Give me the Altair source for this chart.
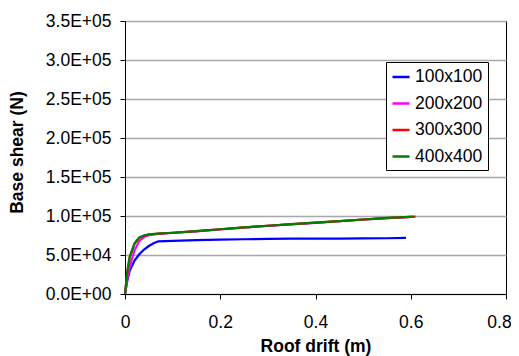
import altair as alt
import pandas as pd

series_names = ["100x100", "200x200", "300x300", "400x400"]
series_colors = ["#0000ff", "#ff00ff", "#ff0000", "#008000"]

drift_100 = [0, 0.005, 0.01, 0.02, 0.03, 0.04, 0.05, 0.06, 0.07, 0.1, 0.15, 0.2, 0.25, 0.3, 0.35, 0.4, 0.45, 0.5, 0.55, 0.59]
shear_100 = [0, 18000, 30000, 43000, 51000, 57000, 61500, 65000, 67500, 68200, 69000, 69600, 70200, 70600, 70900, 71000, 71100, 71200, 71500, 72000]

drift_200 = [0, 0.005, 0.01, 0.02, 0.03, 0.04, 0.05, 0.07, 0.1, 0.15, 0.2, 0.25, 0.3, 0.35, 0.4, 0.45, 0.5, 0.55, 0.6]
shear_200 = [0, 20000, 35000, 56000, 68000, 73000, 75500, 77000, 78200, 80300, 82800, 85200, 87300, 89300, 91300, 93300, 95300, 97200, 98800]

drift_300 = [0, 0.005, 0.01, 0.02, 0.03, 0.04, 0.05, 0.07, 0.1, 0.15, 0.2, 0.25, 0.3, 0.35, 0.4, 0.45, 0.5, 0.55, 0.6, 0.61]
shear_300 = [0, 29000, 47000, 64500, 72000, 74800, 76300, 77400, 78500, 80500, 83000, 85500, 87500, 89500, 91500, 93500, 95500, 97400, 99000, 99300]

drift_400 = [0, 0.005, 0.01, 0.02, 0.03, 0.04, 0.05, 0.07, 0.1, 0.15, 0.2, 0.25, 0.3, 0.35, 0.4, 0.45, 0.5, 0.55, 0.6, 0.605]
shear_400 = [0, 30000, 48000, 65000, 72500, 75000, 76500, 77500, 78500, 80500, 83000, 85500, 87500, 89500, 91500, 93500, 95500, 97500, 99000, 99200]

x_ticks = [0, 0.2, 0.4, 0.6, 0.8]
y_ticks = [0, 50000, 100000, 150000, 200000, 250000, 300000, 350000]

rows = []
for name, xs, ys in zip(series_names,
                        [drift_100, drift_200, drift_300, drift_400],
                        [shear_100, shear_200, shear_300, shear_400]):
    for i, (x, y) in enumerate(zip(xs, ys)):
        rows.append({"series": name, "drift": x, "shear": y, "idx": i})
df = pd.DataFrame(rows)

FONT = "Liberation Sans"
FS = 17.5

y_label_expr = ("datum.value == 0 ? '0.0E+00' : (datum.value < 100000 ? "
                "format(datum.value / 10000, '.1f') + 'E+04' : "
                "format(datum.value / 100000, '.1f') + 'E+05')")

chart = alt.Chart(df).mark_line(strokeWidth=2.2).encode(
    x=alt.X("drift:Q",
            scale=alt.Scale(domain=[0, 0.8], nice=False),
            axis=alt.Axis(values=x_ticks, format=".1~f", title="Roof drift (m)",
                          grid=False, labelPadding=14, tickSize=5, labelFlush=False,
                          labelOffset={"condition": {"test": "datum.value >= 0.79", "value": -7},
                                       "value": 0},
                          titleBaseline="alphabetic", titleY=57)),
    y=alt.Y("shear:Q",
            scale=alt.Scale(domain=[0, 350000], nice=False),
            axis=alt.Axis(values=y_ticks, labelExpr=y_label_expr, title="Base shear (N)",
                          grid=True, titlePadding=19, labelPadding=9, tickSize=5,
                          labelFlush=False, titleY=131)),
    color=alt.Color("series:N",
                    scale=alt.Scale(domain=series_names, range=series_colors),
                    legend=alt.Legend(title=None, orient="none", legendX=261, legendY=41,
                                      symbolType="stroke", symbolSize=289, symbolStrokeWidth=2.5,
                                      labelFontSize=FS, labelFont=FONT, labelColor="black",
                                      labelOffset=4, rowPadding=7.5, padding=5,
                                      strokeColor="black", fillColor="white",
                                      cornerRadius=0)),
    order="idx:Q",
).properties(
    width=381,
    height=273,
    padding={"left": 117, "top": 13, "right": 5, "bottom": 62},
    autosize=alt.AutoSizeParams(type="none"),
    background="white",
).configure_view(
    stroke="black", strokeWidth=1,
).configure_axis(
    labelFont=FONT, labelFontSize=FS, labelColor="black",
    titleFont=FONT, titleFontSize=FS, titleFontWeight="bold", titleColor="black",
    domainColor="black", domainWidth=1, tickColor="black", tickWidth=1,
    gridColor="#a8a8a8", gridWidth=1.3,
)

chart.save("out.html", embed_options={"renderer": "svg", "actions": False})
